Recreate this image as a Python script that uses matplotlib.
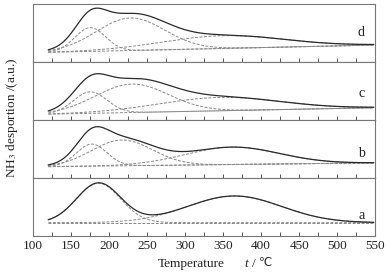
import matplotlib.pyplot as plt
import numpy as np

plt.rcParams['font.family'] = ['Liberation Serif', 'DejaVu Serif']
plt.rcParams['mathtext.fontset'] = 'stix'

# panels from bottom to top
labels = ['a', 'b', 'c', 'd']
t_start = 120
t_end = 548

# linear baseline (panel units, 0 = bottom of panel, 1 = top)
base_left = [0.23, 0.195, 0.10, 0.165]
base_right = [0.23, 0.26, 0.21, 0.29]

# fitted gaussian peaks: centre (deg C), height, width
centres = [[186, 365], [177, 217, 362], [175, 230, 345], [175, 228, 350]]
heights = [[0.68, 0.46], [0.38, 0.445, 0.30], [0.37, 0.49, 0.23], [0.41, 0.56, 0.22]]
widths = [[29, 62], [20, 40, 62], [22, 48, 80], [20, 45, 80]]

label_pos = [0.36, 0.425, 0.455, 0.51]

fig, axes = plt.subplots(4, 1, sharex=True, figsize=(3.9, 2.77), dpi=100)
fig.subplots_adjust(left=0.085, right=0.962, top=0.986, bottom=0.148, hspace=0)

t = np.linspace(t_start, t_end, 400)
for i in range(4):
    ax = axes[3 - i]
    base = base_left[i] + (base_right[i] - base_left[i]) * (t - t_start) / (t_end - t_start)
    total = base.copy()
    ax.plot(t, base, color='#888888', lw=0.7, dashes=(3, 1.6))
    for c, h, w in zip(centres[i], heights[i], widths[i]):
        peak = h * np.exp(-(t - c) ** 2 / (2 * w ** 2))
        total += peak
        ax.plot(t, base + peak, color='#888888', lw=0.7, dashes=(3, 1.6))
    ax.plot(t, total, color='#2a2a2a', lw=0.9)
    ax.text(532, label_pos[i], labels[i], fontsize=10, ha='center', va='center', color='#222222')

    ax.set_ylim(0, 1)
    ax.set_xlim(100, 550)
    ax.set_yticks([])
    for s in ax.spines.values():
        s.set_color('#777777')
        s.set_linewidth(0.8)
    ax.set_xticks(np.arange(100, 551, 50))
    ax.set_xticks(np.arange(125, 551, 50), minor=True)
    ax.tick_params(axis='x', which='both', direction='in', length=3, width=0.7,
                   color='#555555', labelsize=9.5, labelcolor='#222222', pad=3)

# x label in pieces so the degree sign can fall back to DejaVu Sans
fig.text(0.49, 0.048, 'Temperature', fontsize=9.5, ha='center', va='center', color='#222222')
fig.text(0.632, 0.048, 't', fontsize=9.5, style='italic', ha='center', va='center', color='#222222')
fig.text(0.645, 0.048, '/', fontsize=9.5, ha='left', va='center', color='#222222')
fig.text(0.665, 0.05, '\u2103', fontsize=8.5, ha='left', va='center', color='#222222',
         family=['Liberation Serif', 'DejaVu Sans'])
fig.text(0.032, 0.575, 'NH$_3$ desportion /(a.u.)', rotation=90, fontsize=9.5,
         ha='center', va='center', color='#222222')

plt.savefig('out.png', dpi=100)
